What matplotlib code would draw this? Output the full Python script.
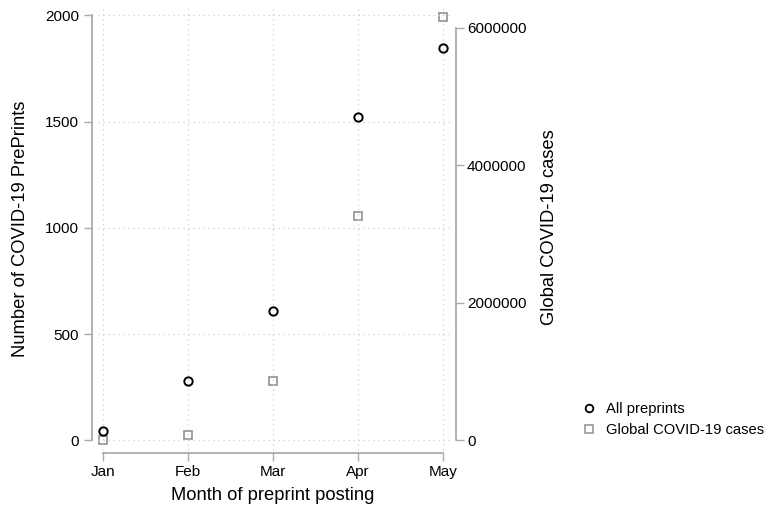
import matplotlib
matplotlib.use("Agg")
import matplotlib.pyplot as plt
from matplotlib.lines import Line2D

months = ["Jan", "Feb", "Mar", "Apr", "May"]
preprints = [46, 280, 611, 1523, 1845]
global_cases = [9800, 86000, 870000, 3270000, 6160000]
left_ticks = [0, 500, 1000, 1500, 2000]
right_ticks = [0, 2000000, 4000000, 6000000]

W, H = 765, 512
plt.rcParams["font.family"] = ["Liberation Sans", "DejaVu Sans"]

fig = plt.figure(figsize=(W / 100, H / 100), dpi=100)
fig.patch.set_facecolor("white")

def fx(px):
    return px / W

def fy(py):
    return 1 - py / H

# axes frame in pixel terms
x0, x1, y0, y1 = 91.7, 456.0, 5.0, 452.7
ax = fig.add_axes([fx(x0), fy(y1), fx(x1) - fx(x0), fy(y0) - fy(y1)])
ax2 = ax.twinx()

xpos = list(range(len(months)))
ax.set_xlim(-0.133, 4.153)
ax.set_ylim(-57.4, 2048.4)
ax2.set_ylim(-177500, 6334500)

spine_col = "#ababab"
grid_col = "#cfcfcf"

for a in (ax, ax2):
    for s in a.spines.values():
        s.set_visible(False)
    a.set_facecolor("none")

ax.spines["left"].set_visible(True)
ax.spines["left"].set_bounds(left_ticks[0], left_ticks[-1])
ax.spines["bottom"].set_visible(True)
ax.spines["bottom"].set_bounds(xpos[0], xpos[-1])
ax2.spines["right"].set_visible(True)
ax2.spines["right"].set_bounds(right_ticks[0], right_ticks[-1])
for s in (ax.spines["left"], ax.spines["bottom"], ax2.spines["right"]):
    s.set_color(spine_col)
    s.set_linewidth(1.3)

ax.set_xticks(xpos)
ax.set_xticklabels(months)
ax.set_yticks(left_ticks)
ax.set_yticklabels([str(t) for t in left_ticks])
ax2.set_yticks(right_ticks)
ax2.set_yticklabels([str(t) for t in right_ticks])

ax.tick_params(axis="both", length=5.5, width=1.0, color=spine_col,
               labelsize=11, labelcolor="black", pad=3.5)
ax.tick_params(axis="x", pad=3.5)
ax2.tick_params(axis="y", length=5.5, width=1.0, color=spine_col,
                labelsize=11, labelcolor="black", pad=2.5)

# dotted grid inside the plot region
ax.hlines(left_ticks, -0.059, 4.082, colors=grid_col, linestyles=(0, (1, 3)),
          linewidth=0.9, zorder=0)
ax.vlines(xpos, -44.7, 2048.4, colors=grid_col, linestyles=(0, (1, 3)),
          linewidth=0.9, zorder=0)

ax2.plot(xpos, global_cases, linestyle="none", marker="s", markersize=6.0,
         markerfacecolor="none", markeredgecolor="#9a9a9a",
         markeredgewidth=1.3, zorder=3)
ax.plot(xpos, preprints, linestyle="none", marker="o", markersize=6.0,
        markerfacecolor="none", markeredgecolor="black",
        markeredgewidth=1.4, zorder=4)
ax.set_zorder(ax2.get_zorder() + 1)

fig.text(fx(21), fy(228.5), "Number of COVID-19 PrePrints", rotation=90,
         ha="center", va="center", fontsize=13.2)
fig.text(fx(549), fy(227.5), "Global COVID-19 cases", rotation=90,
         ha="center", va="center", fontsize=13.2)
fig.text(fx(272.5), fy(496), "Month of preprint posting",
         ha="center", va="center", fontsize=13.2)

handles = [
    Line2D([], [], linestyle="none", marker="o", markersize=5.5,
           markerfacecolor="none", markeredgecolor="black", markeredgewidth=1.3),
    Line2D([], [], linestyle="none", marker="s", markersize=5.5,
           markerfacecolor="none", markeredgecolor="#9a9a9a", markeredgewidth=1.2),
]
fig.legend(handles, ["All preprints", "Global COVID-19 cases"],
           loc="center left", bbox_to_anchor=(fx(582), fy(419.5)),
           frameon=False, fontsize=10.6, handlelength=1.0, handletextpad=0.6,
           labelspacing=0.5, borderpad=0, borderaxespad=0)

fig.savefig("out.png", dpi=100, facecolor="white")
